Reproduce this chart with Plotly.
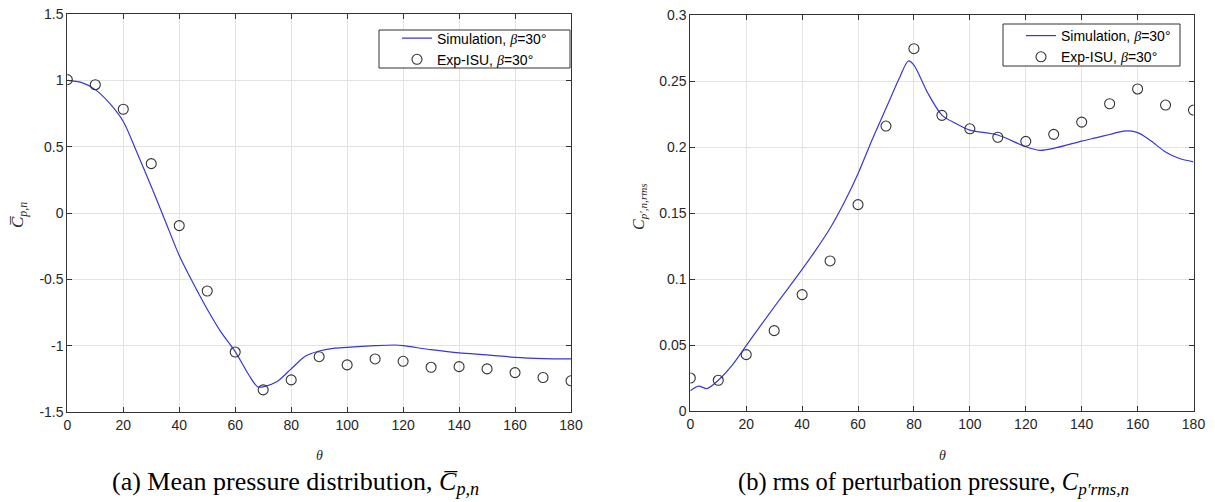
import plotly.graph_objects as go

# ---------------- data ----------------
theta_exp = [0, 10, 20, 30, 40, 50, 60, 70, 80, 90, 100, 110, 120, 130, 140, 150, 160, 170, 180]

cp_mean_exp = [1.005, 0.967, 0.782, 0.372, -0.095, -0.588, -1.048, -1.333, -1.258, -1.083,
               -1.145, -1.100, -1.118, -1.163, -1.158, -1.175, -1.203, -1.240, -1.265]

theta_sim_a = [0, 5, 10, 15, 20, 25, 30, 35, 40, 45, 50, 55, 60, 65, 68, 70, 75, 80, 85, 90,
               95, 100, 110, 117, 120, 130, 140, 150, 160, 170, 180]
cp_mean_sim = [1.0, 0.985, 0.93, 0.83, 0.69, 0.45, 0.20, -0.06, -0.32, -0.53, -0.725, -0.90,
               -1.045, -1.225, -1.31, -1.31, -1.27, -1.175, -1.08, -1.04,
               -1.02, -1.013, -1.0, -0.995, -1.0, -1.03, -1.055, -1.07, -1.088, -1.097, -1.10]

cp_rms_exp = [0.0252, 0.0235, 0.0429, 0.0611, 0.0884, 0.1139, 0.1566, 0.2161, 0.2747, 0.2242,
              0.2140, 0.2076, 0.2045, 0.2098, 0.2191, 0.2330, 0.2442, 0.2320, 0.2282]

theta_sim_b = [0, 3, 6, 10, 15, 20, 25, 30, 35, 40, 45, 50, 55, 60, 65, 70, 75, 78, 80, 85,
               90, 95, 100, 110, 120, 125, 130, 140, 145, 150, 155, 158, 161, 165, 170, 175, 180]
cp_rms_sim = [0.0156, 0.019, 0.0172, 0.0235, 0.035, 0.0497, 0.0645, 0.0790, 0.0932, 0.1075,
              0.1225, 0.1387, 0.158, 0.180, 0.2055, 0.2295, 0.2535, 0.2654, 0.2623, 0.2409,
              0.2244, 0.218, 0.213, 0.2093, 0.2004, 0.1977, 0.1992, 0.2047, 0.2072, 0.2097,
              0.2122, 0.2122, 0.2102, 0.2045, 0.1965, 0.1915, 0.189]

x_ticks = [0, 20, 40, 60, 80, 100, 120, 140, 160, 180]
y_ticks_a = [-1.5, -1, -0.5, 0, 0.5, 1, 1.5]
y_ticktext_a = ["-1.5", "-1", "-0.5", "0", "0.5", "1", "1.5"]
y_ticks_b = [0, 0.05, 0.1, 0.15, 0.2, 0.25, 0.3]
y_ticktext_b = ["0", "0.05", "0.1", "0.15", "0.2", "0.25", "0.3"]

BETA = "<span style='font-family:Liberation Serif, serif'><i>β</i></span>"
sim_name = "Simulation, " + BETA + "=30°"
exp_name = "Exp-ISU, " + BETA + "=30°"

# ---------------- figure ----------------
W, H = 1215, 502
LINE_COLOR = "rgb(55,55,215)"
MARK_COLOR = "#333333"
AX_COLOR = "#333333"
SANS = "Liberation Sans, Arial, sans-serif"
SERIF = "Liberation Serif, Times New Roman, serif"
TICK_FONT = dict(family=SANS, size=14, color="#262626")

fig = go.Figure()

fig.add_trace(go.Scatter(x=theta_sim_a, y=cp_mean_sim, mode="lines", name=sim_name,
                         line=dict(color=LINE_COLOR, width=1.2, shape="spline", smoothing=0.8),
                         xaxis="x", yaxis="y", legend="legend"))
fig.add_trace(go.Scatter(x=theta_exp, y=cp_mean_exp, mode="markers", name=exp_name,
                         marker=dict(symbol="circle-open", size=10, color=MARK_COLOR,
                                     line=dict(width=1.1, color=MARK_COLOR)),
                         xaxis="x", yaxis="y", legend="legend"))

fig.add_trace(go.Scatter(x=theta_sim_b, y=cp_rms_sim, mode="lines", name=sim_name,
                         line=dict(color=LINE_COLOR, width=1.2, shape="spline", smoothing=0.8),
                         xaxis="x2", yaxis="y2", legend="legend2"))
fig.add_trace(go.Scatter(x=theta_exp, y=cp_rms_exp, mode="markers", name=exp_name,
                         marker=dict(symbol="circle-open", size=10, color=MARK_COLOR,
                                     line=dict(width=1.1, color=MARK_COLOR)),
                         xaxis="x2", yaxis="y2", legend="legend2"))

axis_common = dict(showline=True, linecolor=AX_COLOR, linewidth=1, mirror="ticks",
                   ticks="inside", ticklen=5, tickcolor=AX_COLOR, tickwidth=1,
                   showgrid=True, gridcolor="#e3e3e3", gridwidth=1, zeroline=False,
                   tickfont=TICK_FONT, automargin=False)

legend_common = dict(xanchor="left", yanchor="middle", bgcolor="rgba(0,0,0,0)",
                     borderwidth=0, font=dict(family=SANS, size=14, color="#000000"),
                     tracegroupgap=0)

fig.update_layout(
    width=W, height=H,
    margin=dict(l=0, r=0, t=0, b=0, autoexpand=False),
    paper_bgcolor="white", plot_bgcolor="white",
    xaxis=dict(domain=[67.3 / W, 571 / W], range=[0, 180], tickvals=x_ticks,
               anchor="y", **axis_common),
    yaxis=dict(domain=[(H - 412) / H, (H - 14) / H], range=[-1.5, 1.5],
               tickvals=y_ticks_a, ticktext=y_ticktext_a, anchor="x", **axis_common),
    xaxis2=dict(domain=[690.3 / W, 1193.5 / W], range=[0, 180], tickvals=x_ticks,
                anchor="y2", **axis_common),
    yaxis2=dict(domain=[(H - 411.3) / H, (H - 15.3) / H], range=[0, 0.3],
                tickvals=y_ticks_b, ticktext=y_ticktext_b, anchor="x2", **axis_common),
    legend=dict(x=397 / W, y=(H - 49) / H, **legend_common),
    legend2=dict(x=1021 / W, y=(H - 46.5) / H, **legend_common),
    showlegend=True,
)

# legend frames (MATLAB style boxes)
fig.add_shape(type="rect", xref="paper", yref="paper",
              x0=379 / W, x1=570 / W, y0=(H - 68) / H, y1=(H - 30) / H,
              line=dict(color=AX_COLOR, width=1), fillcolor="white", layer="above")
fig.add_shape(type="rect", xref="paper", yref="paper",
              x0=1003 / W, x1=1180 / W, y0=(H - 66) / H, y1=(H - 24) / H,
              line=dict(color=AX_COLOR, width=1), fillcolor="white", layer="above")

annotations = [
    # x-axis titles
    dict(text="<i>θ</i>", x=319 / W, y=(H - 455) / H),
    dict(text="<i>θ</i>", x=942 / W, y=(H - 455) / H),
    # y-axis titles
    dict(text="<i>C\u0305</i><sub><i>p,n</i></sub>", x=19 / W, y=(H - 215) / H, textangle=-90,
         font=dict(family=SERIF, size=17, color="#262626")),
    dict(text="<i>C</i><sub><i>p′,n,rms</i></sub>", x=640 / W, y=(H - 207) / H, textangle=-90,
         font=dict(family=SERIF, size=16, color="#262626")),
    # captions
    dict(text="(a) Mean pressure distribution, <i>C\u0305</i><sub><i>p,n</i></sub>",
         x=295 / W, y=(H - 483) / H, font=dict(family=SERIF, size=26, color="#000000")),
    dict(text="(b) rms of perturbation pressure, <i>C</i><sub><i>p′rms,n</i></sub>",
         x=933 / W, y=(H - 483) / H, font=dict(family=SERIF, size=24.5, color="#000000")),
]
for a in annotations:
    a.setdefault("font", dict(family=SERIF, size=14, color="#262626"))
    a.update(xref="paper", yref="paper", showarrow=False, xanchor="center", yanchor="middle")
fig.update_layout(annotations=annotations)

fig.write_html("out.html")
